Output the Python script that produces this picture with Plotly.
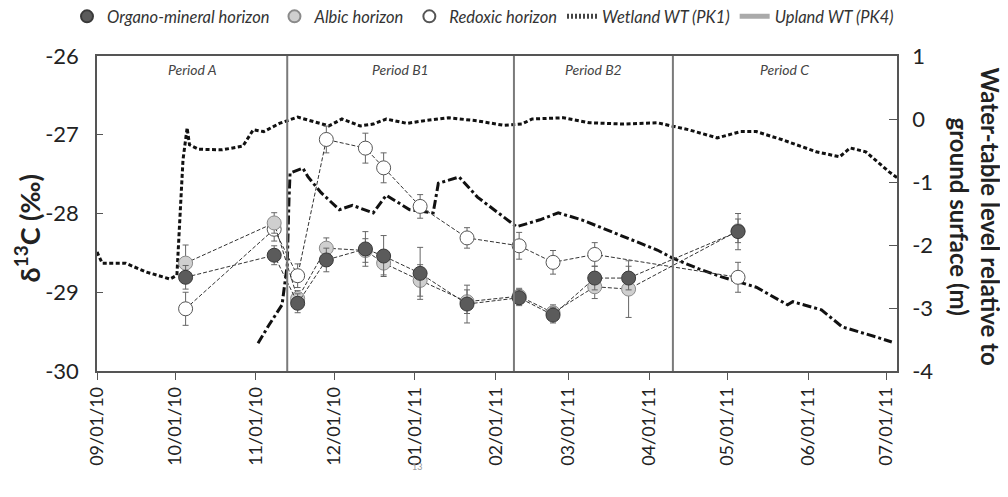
import plotly.graph_objects as go
import pandas as pd

# ---- isotope samples (left axis, δ13C ‰) ----
sample_dates = ['2010-10-05', '2010-11-08', '2010-11-17', '2010-11-28', '2010-12-13',
                '2010-12-20', '2011-01-03', '2011-01-21', '2011-02-10', '2011-02-23',
                '2011-03-11', '2011-03-24', '2011-05-05']
organo = [-28.81, -28.53, -29.14, -28.59, -28.45, -28.54, -28.76, -29.15, -29.07, -29.29, -28.82, -28.82, -28.23]
organo_err = [0.15, 0.12, 0.12, 0.15, 0.22, 0.26, 0.33, 0.24, 0.10, 0.10, 0.15, 0.15, 0.23]
albic = [-28.63, -28.12, -29.08, -28.44, -28.47, -28.63, -28.85, -29.12, -29.05, -29.26, -28.93, -28.96, -28.22]
albic_err = [0.23, 0.13, 0.10, 0.13, 0.15, 0.15, 0.20, 0.15, 0.10, 0.10, 0.15, 0.36, 0.15]
redoxic = [-29.21, -28.20, -28.79, -27.06, -27.17, -27.42, -27.91, -28.31, -28.41, -28.62, -28.52, None, -28.81]
redoxic_err = [0.21, 0.15, 0.15, 0.17, 0.19, 0.19, 0.15, 0.13, 0.17, 0.15, 0.15, None, 0.19]

# ---- water table (right axis, m) ----
wet_dates = ['2010-09-01', '2010-09-03', '2010-09-12', '2010-09-20', '2010-09-29', '2010-10-01 16:00',
             '2010-10-02 22:00', '2010-10-04 00:00', '2010-10-05 14:00', '2010-10-06 12:00', '2010-10-10',
             '2010-10-19', '2010-10-27', '2010-10-31', '2010-11-04', '2010-11-10', '2010-11-17',
             '2010-11-25', '2010-11-29', '2010-12-04', '2010-12-11', '2010-12-16', '2010-12-21',
             '2010-12-29', '2011-01-04', '2011-01-14', '2011-01-25', '2011-02-04', '2011-02-11',
             '2011-02-15', '2011-02-27', '2011-03-09', '2011-03-22', '2011-04-04', '2011-04-10',
             '2011-04-16', '2011-04-27', '2011-05-06', '2011-05-12', '2011-05-22', '2011-06-04',
             '2011-06-13', '2011-06-17', '2011-06-23', '2011-07-02', '2011-07-05']
wet_wt = [-2.11, -2.29, -2.29, -2.43, -2.54, -2.48, -1.49, -0.65, -0.14, -0.41, -0.48,
          -0.49, -0.43, -0.17, -0.20, -0.07, 0.03, -0.07, -0.11, 0.00, -0.11, -0.08, 0.00,
          -0.07, -0.03, 0.02, -0.03, -0.10, -0.08, 0.00, 0.02, -0.06, -0.08, -0.06, -0.11,
          -0.17, -0.30, -0.20, -0.20, -0.33, -0.52, -0.60, -0.46, -0.52, -0.84, -0.93]

up_dates = ['2010-11-01 19:00', '2010-11-06', '2010-11-11', '2010-11-13 00:00', '2010-11-13 16:00',
            '2010-11-14 02:00', '2010-11-19', '2010-11-21', '2010-11-26', '2010-12-03', '2010-12-08',
            '2010-12-16', '2010-12-21', '2010-12-27', '2010-12-30', '2011-01-08', '2011-01-10',
            '2011-01-14', '2011-01-18', '2011-01-25', '2011-01-30', '2011-02-09', '2011-02-18',
            '2011-02-25', '2011-03-06', '2011-03-22', '2011-04-04', '2011-04-10', '2011-04-20',
            '2011-04-29', '2011-05-12', '2011-05-24', '2011-05-26', '2011-06-06', '2011-06-14',
            '2011-06-27', '2011-07-03']
up_wt = [-3.56, -3.27, -2.95, -2.32, -1.29, -0.86, -0.78, -0.92, -1.17, -1.44, -1.37,
         -1.49, -1.21, -1.37, -1.44, -1.49, -1.02, -0.97, -0.92, -1.24, -1.40, -1.71, -1.60,
         -1.49, -1.60, -1.87, -2.08, -2.21, -2.38, -2.51, -2.67, -2.95, -2.90, -3.03, -3.30,
         -3.46, -3.54]

# ---- periods ----
period_bounds = ['2010-09-01', '2010-11-13', '2011-02-08', '2011-04-10', '2011-07-05']
period_names = ['Period A', 'Period B1', 'Period B2', 'Period C']

tick_vals = ['2010-09-01', '2010-10-01', '2010-11-01', '2010-12-01', '2011-01-01', '2011-02-01',
             '2011-03-01', '2011-04-01', '2011-05-01', '2011-06-01', '2011-07-01']
left_ticks = [-30, -29, -28, -27, -26]
left_labels = ['-30', '-29', '-28', '-27', '-26']
right_ticks = [-4, -3, -2, -1, 0, 1]
right_labels = ['-4', '-3', '-2', '-1', '0', '1']

FONT = 'Lato'
fig = go.Figure()

# water-table lines on y (right side)
fig.add_trace(go.Scatter(x=wet_dates, y=wet_wt, mode='lines', yaxis='y', showlegend=False,
                         line=dict(color='#111', width=3, dash='4px,2.5px')))
fig.add_trace(go.Scatter(x=up_dates, y=up_wt, mode='lines', yaxis='y', showlegend=False,
                         line=dict(color='#111', width=3, dash='9px,3px,3px,3px')))

def add_series(vals, errs, fill, edge):
    fig.add_trace(go.Scatter(
        x=sample_dates, y=vals, yaxis='y2', mode='lines+markers', connectgaps=True,
        showlegend=False,
        line=dict(color='#333', width=1, dash='4px,2px'),
        marker=dict(size=14, color=fill, line=dict(color=edge, width=1)),
        error_y=dict(type='data', array=errs, color='#666', thickness=1, width=3),
    ))

ORG = ('#5b5b5b', '#3a3a3a')
ALB = ('#cfcfcf', '#8a8a8a')
RED = ('#ffffff', '#555555')
# draw order: redoxic at the back, organo-mineral on top
add_series(redoxic, redoxic_err, *RED)
add_series(albic, albic_err, *ALB)
add_series(organo, organo_err, *ORG)

# legend entries
for nm, (fc, ec) in [('Organo-mineral horizon', ORG), ('Albic horizon', ALB), ('Redoxic horizon', RED)]:
    fig.add_trace(go.Scatter(x=[None], y=[None], mode='markers', name=nm, yaxis='y2',
                             marker=dict(size=12, color=fc, line=dict(color=ec, width=1))))
fig.add_trace(go.Scatter(x=[None], y=[None], mode='lines', name='Wetland WT (PK1)', yaxis='y',
                         line=dict(color='#444', width=1, dash='2px,2px')))
fig.add_trace(go.Scatter(x=[None], y=[None], mode='lines', name='Upland WT (PK4)', yaxis='y',
                         line=dict(color='#aaa', width=1)))

shapes = []
for b in period_bounds[1:-1]:
    shapes.append(dict(type='line', xref='x', yref='paper', x0=b, x1=b, y0=0, y1=1,
                       line=dict(color='#7a7a7a', width=2)))

annotations = []
pb = pd.to_datetime(period_bounds)
for i, nm in enumerate(period_names):
    mid = pb[i] + (pb[i + 1] - pb[i]) / 2
    annotations.append(dict(x=mid, y=0.956, xref='x', yref='paper', yanchor='middle',
                            text=nm, showarrow=False,
                            font=dict(family=FONT, size=14, color='#444', style='italic')))

# axis titles
annotations.append(dict(x=1.098, y=0.489, xref='paper', yref='paper', showarrow=False,
                        xanchor='center', yanchor='middle',
                        text='<b>Water-table level relative to<br>ground surface (m)</b>',
                        textangle=90, align='center',
                        font=dict(family=FONT, size=24, color='#222')))
annotations.append(dict(x=-0.087, y=0.454, xref='paper', yref='paper', showarrow=False,
                        xanchor='center', yanchor='middle',
                        text='<b>δ<sup>13</sup>C (‰)</b>', textangle=-90,
                        font=dict(family=FONT, size=27, color='#222')))
annotations.append(dict(x=0.4, y=-0.302, xref='paper', yref='paper', showarrow=False,
                        xanchor='center', yanchor='middle', text='13',
                        font=dict(family=FONT, size=9, color='#999')))

fig.update_layout(
    width=1008, height=497,
    margin=dict(l=89, r=119, t=48, b=134, autoexpand=False),
    paper_bgcolor='white', plot_bgcolor='white',
    font=dict(family=FONT, color='#222'),
    xaxis=dict(type='date', range=['2010-09-01', '2011-07-05'], tickvals=tick_vals,
               tickformat='%m/%d/%y', tickangle=-90, ticks='outside', ticklen=7,
               tickcolor='#555', showgrid=False, zeroline=False, showline=True,
               linecolor='#555', linewidth=1.5, mirror=True, automargin=False,
               tickfont=dict(family=FONT, size=18, color='#222')),
    yaxis=dict(side='right', range=[-4, 1], tickvals=right_ticks, ticktext=right_labels,
               ticks='inside', ticklen=8, automargin=False, ticklabelstandoff=9,
               tickcolor='#555', showgrid=False, zeroline=False, showline=True,
               linecolor='#555', linewidth=1.5,
               tickfont=dict(family=FONT, size=22, color='#222')),
    yaxis2=dict(overlaying='y', side='left', range=[-30, -26], tickvals=left_ticks,
                ticktext=left_labels, automargin=False, ticklabelstandoff=12,
                ticks='inside', ticklen=6, tickcolor='#555', showgrid=False, zeroline=False,
                showline=True, linecolor='#555', linewidth=1.5,
                tickfont=dict(family=FONT, size=22, color='#222')),
    legend=dict(orientation='h', x=-0.0375, xanchor='left', y=1.125, yanchor='middle',
                itemsizing='constant', traceorder='normal', bgcolor='rgba(0,0,0,0)',
                font=dict(family=FONT, size=16.5, color='#333', style='italic')),
    shapes=shapes, annotations=annotations,
)

fig.write_html('out.html')
